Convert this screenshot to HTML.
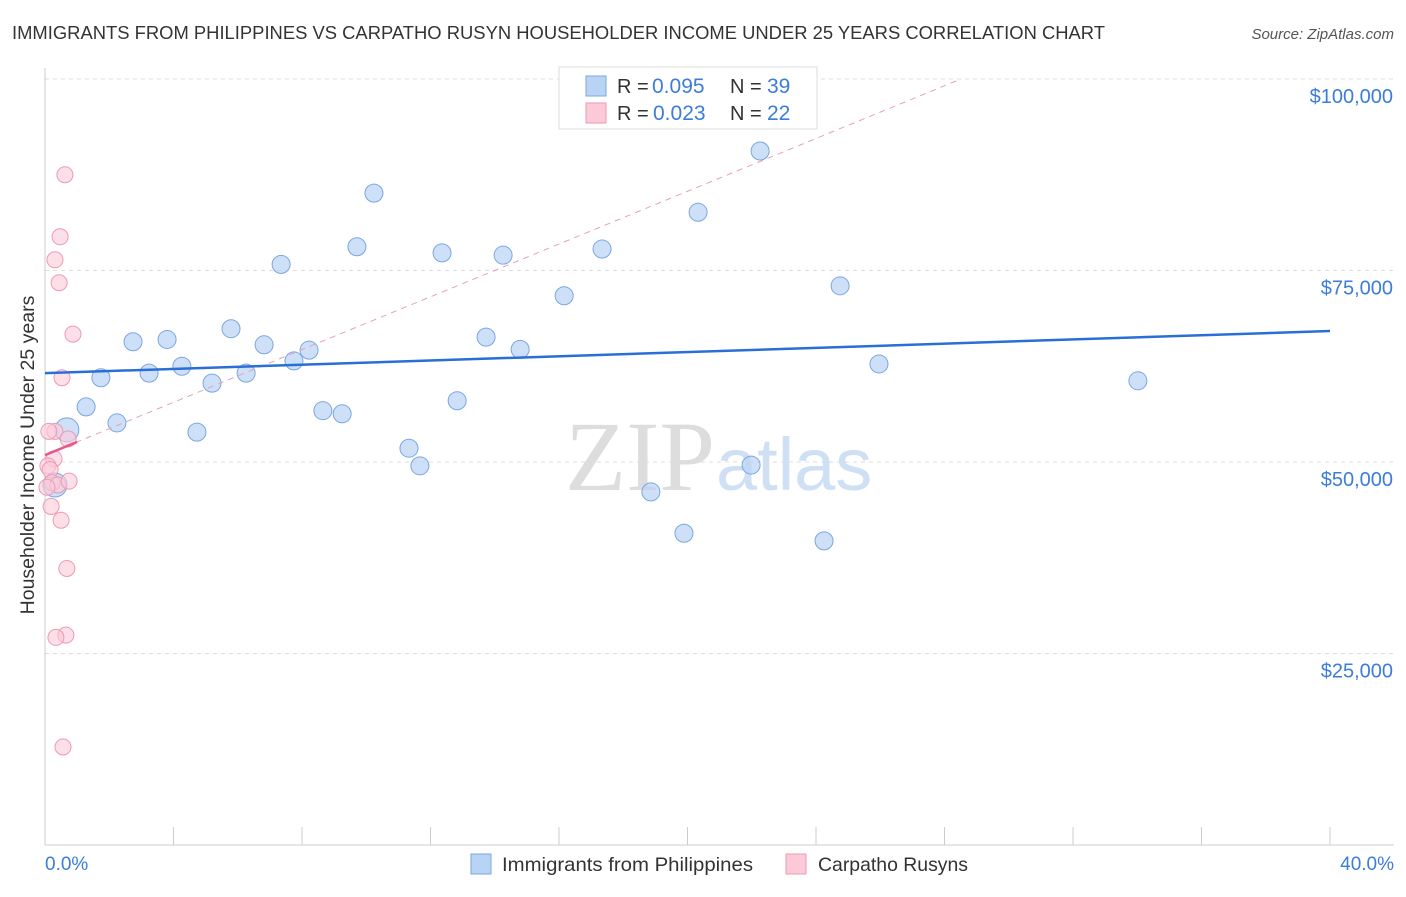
<!DOCTYPE html>
<html><head><meta charset="utf-8"><style>
body{margin:0;background:#fff;font-family:"Liberation Sans",sans-serif}
</style></head><body>
<svg width="1406" height="892" xmlns="http://www.w3.org/2000/svg" font-family="Liberation Sans, sans-serif">
<text x="12" y="39" font-size="18.5" fill="#333" textLength="1093" lengthAdjust="spacingAndGlyphs">IMMIGRANTS FROM PHILIPPINES VS CARPATHO RUSYN HOUSEHOLDER INCOME UNDER 25 YEARS CORRELATION CHART</text>
<text x="1394" y="39" font-size="15" fill="#555" font-style="italic" text-anchor="end">Source: ZipAtlas.com</text>
<text x="715" y="490" font-size="100" font-family="Liberation Serif, serif" fill="#ddd" text-anchor="end">ZIP</text>
<text x="716" y="490" font-size="74" fill="#cfe0f5">atlas</text>
<g id="grid"></g>
<g id="axes"></g>
<g id="marks"></g>
<text transform="translate(34,455) rotate(-90)" font-size="19.5" fill="#333" text-anchor="middle">Householder Income Under 25 years</text>
<text x="45" y="870" font-size="19" fill="#3b7dd8">0.0%</text>
<text x="1394" y="870" font-size="19" fill="#3b7dd8" text-anchor="end">40.0%</text>
<g>
<rect x="559" y="67" width="258" height="62" fill="#fff" stroke="#ddd"/>
<rect x="586" y="76" width="20" height="20" fill="#b9d3f5" stroke="#7aa7e0"/>
<rect x="586" y="103" width="20" height="20" fill="#fcc9d8" stroke="#ee99b5"/>
<text x="617" y="93" font-size="20" fill="#333">R = </text>
<text x="652" y="93" font-size="21" fill="#3b7dd8">0.095</text>
<text x="730" y="93" font-size="20" fill="#333">N = </text>
<text x="767" y="93" font-size="21" fill="#3b7dd8">39</text>
<text x="617" y="120" font-size="20" fill="#333">R = </text>
<text x="653" y="120" font-size="21" fill="#3b7dd8">0.023</text>
<text x="730" y="120" font-size="20" fill="#333">N = </text>
<text x="767" y="120" font-size="21" fill="#3b7dd8">22</text>
</g>
<g>
<rect x="471" y="854" width="20" height="20" fill="#b9d3f5" stroke="#7aa7e0"/>
<text x="502" y="871" font-size="19.5" fill="#333" textLength="251" lengthAdjust="spacingAndGlyphs">Immigrants from Philippines</text>
<rect x="786" y="854" width="20" height="20" fill="#fcc9d8" stroke="#ee99b5"/>
<text x="818" y="871" font-size="19.5" fill="#333" textLength="150" lengthAdjust="spacingAndGlyphs">Carpatho Rusyns</text>
</g>
</svg>
<script>
const yTicks=[25000,50000,75000,100000];
const yTickLabels=["$25,000","$50,000","$75,000","$100,000"];
const blueX=[0.31,0.68,1.28,1.74,2.24,2.74,3.24,3.80,4.26,4.73,5.20,5.79,6.26,6.82,7.35,7.75,8.22,8.65,9.25,9.71,10.24,11.33,11.67,12.36,12.83,13.73,14.26,14.79,16.16,17.34,18.86,19.89,20.33,21.98,22.26,24.25,24.75,25.96,34.02];
const blueY=[47000,54200,57200,61000,55100,65700,61600,66000,62500,53900,60300,67400,61600,65300,75800,63200,64600,56700,56300,78100,85100,51800,49500,77300,58000,66300,77000,64700,71700,77800,46100,40700,82600,49600,90600,39700,73000,62800,60600];
const pinkX=[0.62,0.47,0.31,0.44,0.87,0.53,0.31,0.12,0.72,0.28,0.09,0.16,0.22,0.40,0.75,0.06,0.19,0.50,0.68,0.65,0.34,0.56];
const pinkY=[87500,79400,76400,73400,66700,61000,54000,54000,53000,50400,49500,49000,47300,47000,47500,46700,44200,42400,36100,27400,27100,12800];
const blueTrend=[61600,67100];
const pinkTrend=[50900,1722];
const NS="http://www.w3.org/2000/svg";
const X=v=>45+v/40*1285, Y=v=>845-v/100000*766;
function mk(t,a,p){const e=document.createElementNS(NS,t);for(const k in a)e.setAttribute(k,a[k]);document.getElementById(p).appendChild(e);return e;}
yTicks.forEach((t,i)=>{
 const l=mk('line',{x1:45,x2:1394,y1:Y(t),y2:Y(t),stroke:'#ddd','stroke-dasharray':'4,4'},'grid');
 
 
 const tx=mk('text',{x:1393,y:Y(t)+24,'font-size':20,fill:'#3b7dd8','text-anchor':'end'},'grid');
 tx.textContent=yTickLabels[i];
 
 
});
const ax=mk('line',{x1:45,x2:1394,y1:845,y2:845,stroke:'#ccc'},'axes');


const ay=mk('line',{x1:45,x2:45,y1:68,y2:845,stroke:'#ccc'},'axes');


for(let i=1;i<=10;i++){const t=mk('line',{x1:X(i*4),x2:X(i*4),y1:827,y2:845,stroke:'#ccc'},'axes');
 
 }
blueX.forEach((x,i)=>{const r=i<2?12:9;const c=mk('circle',{cx:X(x),cy:Y(blueY[i]),r:r,fill:'#b9d3f5','fill-opacity':0.7,stroke:'#7aa7e0'},'marks');
 
 });
pinkX.forEach((x,i)=>{const c=mk('circle',{cx:X(x),cy:Y(pinkY[i]),r:8,fill:'#fcc9d8','fill-opacity':0.6,stroke:'#ee99b5'},'marks');
 
 });
const xEnd=(100000-pinkTrend[0])/pinkTrend[1];
const pd=mk('line',{x1:X(0),y1:Y(pinkTrend[0]),x2:X(xEnd),y2:Y(100000),stroke:'#e8a0b8','stroke-dasharray':'6,5'},'marks');


const ps=mk('line',{x1:X(0),y1:Y(pinkTrend[0]),x2:X(1),y2:Y(pinkTrend[0]+pinkTrend[1]),stroke:'#e8558a','stroke-width':2.5},'marks');


const bt=mk('line',{x1:X(0),y1:Y(blueTrend[0]),x2:X(40),y2:Y(blueTrend[1]),stroke:'#2a6fd6','stroke-width':2.5},'marks');


</script>
</body></html>
